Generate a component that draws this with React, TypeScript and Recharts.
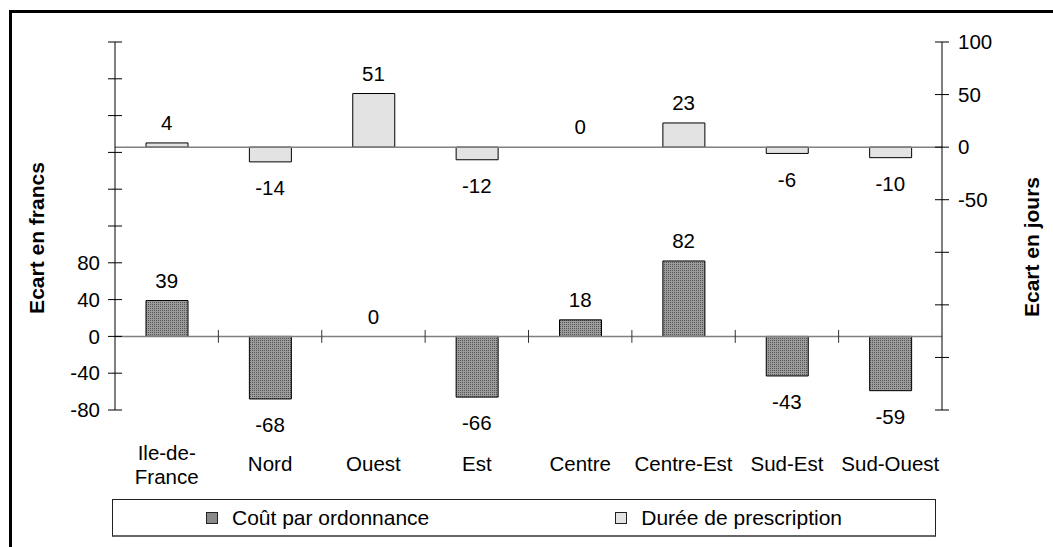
import React from 'react'
import { ComposedChart, Bar, Scatter, XAxis, YAxis, ReferenceLine, Legend } from 'recharts'

// Écarts régionaux : coût par ordonnance (francs) et durée de prescription (jours)
const categories = ['Ile-de-France', 'Nord', 'Ouest', 'Est', 'Centre', 'Centre-Est', 'Sud-Est', 'Sud-Ouest']
const coutParOrdonnance = [39, -68, 0, -66, 18, 82, -43, -59]
const dureePrescription = [4, -14, 51, -12, 0, 23, -6, -10]

const francsTicks = [-80, -40, 0, 40, 80, 120, 160, 200, 240, 280, 320]
const francsLabels = [-80, -40, 0, 40, 80]
const joursTicks = [-250, -200, -150, -100, -50, 0, 50, 100]
const joursLabels = [-50, 0, 50, 100]

const FONT = '"Liberation Sans", Arial, Helvetica, sans-serif'
const FS = 20.5
const TICK = 7
const TICK_GAP = 8

const data = categories.map((region, i) => ({
  region,
  pos: i + 0.5,
  cout: coutParOrdonnance[i],
  duree: dureePrescription[i],
}))
const categoryTicks = data.map((d) => d.pos)
const boundaries = categories.slice(1).map((_, i) => i + 1)

const swatches: Record<string, React.CSSProperties> = {
  cout: { background: '#8a8a8a', border: '1px solid #222' },
  duree: { background: '#e3e3e3', border: '1px solid #222' },
}

function LeftTick(props: any) {
  const { x, y, payload } = props
  const axisX = x + TICK + TICK_GAP
  const v = payload.value
  return (
    <g>
      <line x1={axisX} x2={axisX + TICK} y1={y} y2={y} stroke="#000" />
      {francsLabels.includes(v) && (
        <text x={x} y={y} dy="0.35em" textAnchor="end" fontSize={FS} fill="#000">
          {v}
        </text>
      )}
    </g>
  )
}

function RightTick(props: any) {
  const { x, y, payload } = props
  const axisX = x - TICK - TICK_GAP - 1
  const v = payload.value
  return (
    <g>
      <line x1={axisX - TICK} x2={axisX} y1={y} y2={y} stroke="#000" />
      {joursLabels.includes(v) && (
        <text x={x} y={y} dy="0.35em" textAnchor="start" fontSize={FS} fill="#000">
          {v}
        </text>
      )}
    </g>
  )
}

function RegionTick(props: any) {
  const { x, y, payload } = props
  const name = categories[Math.floor(payload.value)] ?? ''
  // long names wrap after their last hyphen
  const cut = name.lastIndexOf('-')
  const lines = name.length > 11 && cut > 0 ? [name.slice(0, cut + 1), name.slice(cut + 1)] : [name]
  const first = lines.length > 1 ? y + 43 : y + 54
  return (
    <g>
      {lines.map((l, i) => (
        <text key={i} x={x} y={first + i * 24} dy="0.35em" textAnchor="middle" fontSize={FS} fill="#000">
          {l}
        </text>
      ))}
    </g>
  )
}

// value labels sit on an invisible scatter so that zero values get one too
const valueLabel = (key: 'cout' | 'duree') => (props: any) => {
  const v = props.payload?.[key]
  if (v === undefined || props.cx == null || props.cy == null) return <g />
  const cy = v >= 0 ? props.cy - 20 : props.cy + 26
  return (
    <text x={props.cx} y={cy} dy="0.35em" textAnchor="middle" fontSize={FS} fill="#000">
      {v}
    </text>
  )
}

const axisTitle = (text: string, side: 'left' | 'right') => (props: any) => {
  const vb = props.viewBox || { x: side === 'left' ? 35 : 942, y: 42, width: 80, height: 368 }
  const cx = side === 'left' ? vb.x + 2 : vb.x + 90
  const cy = vb.y + vb.height / 2 + (side === 'left' ? 12 : 21)
  return (
    <text
      x={cx}
      y={cy}
      dy="0.35em"
      textAnchor="middle"
      fontSize={21}
      fontWeight="bold"
      fill="#000"
      transform={`rotate(-90, ${cx}, ${cy})`}>
      {text}
    </text>
  )
}

function LegendBox(props: any) {
  const seen = new Set<string>()
  const items = (props.payload || []).filter((it: any) => {
    if (it.type === 'none' || !swatches[it.dataKey] || seen.has(it.dataKey)) return false
    seen.add(it.dataKey)
    return true
  })
  return (
    <div
      style={{
        boxSizing: 'border-box',
        width: 824,
        height: 38,
        border: '1px solid #222',
        borderBottom: '2px solid #666',
        background: '#fff',
        display: 'flex',
        justifyContent: 'space-around',
        alignItems: 'center',
        fontFamily: FONT,
        fontSize: 21,
        color: '#000',
      }}>
      {items.map((it: any) => (
        <div key={it.dataKey} style={{ display: 'flex', alignItems: 'center' }}>
          <span style={{ width: 12, height: 12, boxSizing: 'border-box', marginRight: 14, ...swatches[it.dataKey] }} />
          <span>{it.value}</span>
        </div>
      ))}
    </div>
  )
}

export default function App() {
  return (
    <div style={{ position: 'absolute', left: 0, top: 0, width: 1053, height: 547, background: '#fff', fontFamily: FONT }}>
      <div
        style={{
          position: 'absolute',
          left: 9,
          top: 10,
          width: 1053,
          height: 547,
          borderLeft: '3px solid #000',
          borderTop: '3px solid #000',
        }}
      />
      <div style={{ position: 'absolute', left: 0, top: 0 }}>
        <ComposedChart
          width={1053}
          height={547}
          data={data}
          barGap={-42}
          margin={{ top: 42, right: 31, bottom: 77, left: 35 }}>
          <defs>
            <pattern id="grain" width="2" height="2" patternUnits="userSpaceOnUse">
              <rect width="2" height="2" fill="#9c9c9c" />
              <rect width="1" height="1" fill="#555" />
            </pattern>
          </defs>
          <XAxis
            xAxisId={0}
            type="number"
            dataKey="pos"
            domain={[0, categories.length]}
            ticks={categoryTicks}
            interval={0}
            axisLine={false}
            tickLine={false}
            tickSize={0}
            tickMargin={0}
            height={60}
            tick={<RegionTick />}
          />
          <YAxis
            yAxisId="left"
            orientation="left"
            width={80}
            domain={[-80, 320]}
            ticks={francsTicks}
            interval={0}
            axisLine={{ stroke: '#000' }}
            tickLine={{ stroke: '#000' }}
            tickSize={TICK}
            tickMargin={TICK_GAP}
            tick={<LeftTick />}
            label={{ value: 'Ecart en francs', content: axisTitle('Ecart en francs', 'left') }}
          />
          <YAxis
            yAxisId="right"
            orientation="right"
            width={80}
            domain={[-250, 100]}
            ticks={joursTicks}
            interval={0}
            axisLine={{ stroke: '#000' }}
            tickLine={{ stroke: '#000' }}
            tickSize={TICK}
            tickMargin={TICK_GAP + 1}
            tick={<RightTick />}
            label={{ value: 'Ecart en jours', content: axisTitle('Ecart en jours', 'right') }}
          />
          <ReferenceLine yAxisId="left" y={0} stroke="#808080" strokeWidth={1.5} />
          <ReferenceLine yAxisId="right" y={0} stroke="#808080" strokeWidth={1.5} />
          {boundaries.map((b) => (
            <ReferenceLine
              key={b}
              yAxisId="left"
              segment={[
                { x: b, y: -7 },
                { x: b, y: 7 },
              ]}
              stroke="#333"
            />
          ))}
          <Legend
            verticalAlign="middle"
            align="center"
            content={<LegendBox />}
            wrapperStyle={{ left: 112, top: 499, width: 824, height: 38 }}
          />
          <Bar
            yAxisId="left"
            dataKey="cout"
            name="Coût par ordonnance"
            barSize={42}
            fill="url(#grain)"
            stroke="#000"
            strokeWidth={1}
            isAnimationActive={false}
          />
          <Bar
            yAxisId="right"
            dataKey="duree"
            name="Durée de prescription"
            barSize={42}
            fill="#e3e3e3"
            stroke="#000"
            strokeWidth={1}
            isAnimationActive={false}
          />
          <Scatter
            yAxisId="left"
            dataKey="cout"
            legendType="none"
            shape={valueLabel('cout')}
            isAnimationActive={false}
          />
          <Scatter
            yAxisId="right"
            dataKey="duree"
            legendType="none"
            shape={valueLabel('duree')}
            isAnimationActive={false}
          />
        </ComposedChart>
      </div>
    </div>
  )
}
